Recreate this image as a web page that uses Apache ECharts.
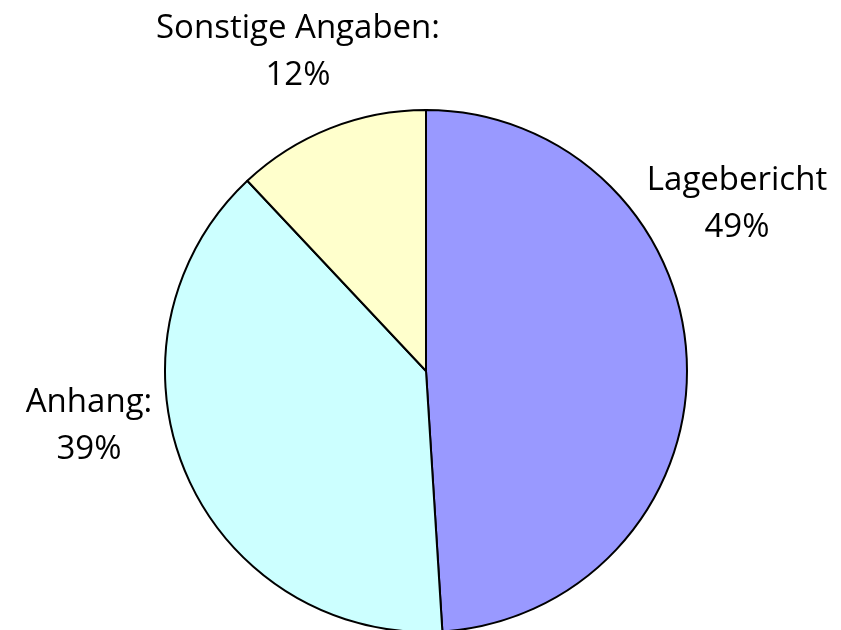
<!DOCTYPE html>
<html><head><meta charset="utf-8">
<script src="https://cdn.jsdelivr.net/npm/echarts@6/dist/echarts.min.js"></script>
<style>html,body{margin:0;padding:0;background:#fff}#c{width:841px;height:630px}</style>
</head><body><div id="c"></div>
<script>
const categories = ['Lagebericht', 'Anhang:', 'Sonstige Angaben:'];
const values = [49, 39, 12];
const colors = ['#9999FF', '#CCFFFF', '#FFFFCC'];
const labelPos = [[737, 204], [89, 426], [298, 52]];

const chart = echarts.init(document.getElementById('c'), null, {renderer: 'canvas'});
chart.setOption({
  animation: false,
  series: [{
    type: 'pie',
    center: [426, 371],
    radius: 261,
    startAngle: 90,
    clockwise: true,
    data: categories.map((n, i) => ({name: n, value: values[i], itemStyle: {color: colors[i]}})),
    itemStyle: {borderColor: '#000', borderWidth: 2},
    label: {
      show: true,
      position: 'outside',
      formatter: p => p.name + '\n' + p.value + '%',
      fontFamily: 'Open Sans',
      fontSize: 33,
      lineHeight: 47,
      color: '#000',
      align: 'center',
      overflow: 'none',
      width: 400
    },
    labelLine: {show: false},
    labelLayout: p => ({x: labelPos[p.dataIndex][0], y: labelPos[p.dataIndex][1], align: 'center', verticalAlign: 'middle', width: 400}),
    emphasis: {disabled: true}
  }]
});
</script></body></html>
